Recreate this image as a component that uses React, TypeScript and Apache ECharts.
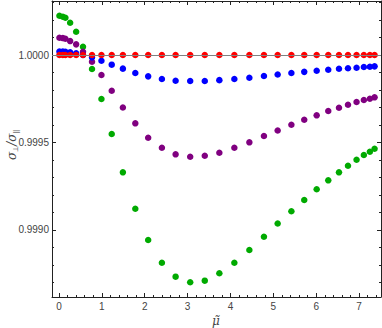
import React, { useEffect, useRef } from "react";
import * as echarts from "echarts";

// x positions (mu tilde) shared by all series
const muValues = [
  0.01, 0.09, 0.15, 0.26, 0.4, 0.56, 0.77, 0.99, 1.23, 1.49, 1.78, 2.08, 2.4, 2.72, 3.06, 3.4,
  3.74, 4.09, 4.44, 4.78, 5.1, 5.42, 5.72, 6.01, 6.28, 6.53, 6.74, 6.94, 7.11, 7.25, 7.36,
];

const redValues = [
  1.0, 1.0, 1.0, 1.0, 1.0, 1.0, 1.0, 1.0, 1.0, 1.0, 1.0, 1.0, 1.0, 1.0, 1.0, 1.0,
  1.0, 1.0, 1.0, 1.0, 1.0, 1.0, 1.0, 1.0, 1.0, 1.0, 1.0, 1.0, 1.0, 1.0, 1.0,
];

const blueValues = [
  1.00002, 1.0000197, 1.000019, 1.0000154, 1.0000097, 1.0, 0.9999869, 0.9999674, 0.9999451,
  0.9999223, 0.9998971, 0.9998783, 0.9998629, 0.9998531, 0.9998514, 0.9998514, 0.9998566,
  0.9998629, 0.9998703, 0.99988, 0.9998886, 0.9998971, 0.999904, 0.9999103, 0.999916,
  0.9999217, 0.9999246, 0.9999274, 0.9999314, 0.9999331, 0.9999354,
];

const purpleValues = [
  1.0000989, 1.0000971, 1.0000931, 1.00008, 1.0000611, 1.0000189, 0.9999617, 0.9998857,
  0.999796, 0.9997, 0.9996097, 0.9995274, 0.9994703, 0.9994326, 0.9994189, 0.9994246,
  0.9994417, 0.9994703, 0.9995011, 0.9995371, 0.9995686, 0.9996017, 0.9996303, 0.9996554,
  0.99968, 0.9996989, 0.999716, 0.9997314, 0.9997429, 0.9997503, 0.9997583,
];

const greenValues = [
  1.0002246, 1.0002189, 1.0002131, 1.0001846, 1.0001331, 1.0000474, 0.99992, 0.9997486,
  0.9995486, 0.9993297, 0.9991217, 0.9989429, 0.9988131, 0.9987331, 0.9987011, 0.9987103,
  0.9987526, 0.9988131, 0.9988857, 0.9989617, 0.9990371, 0.9991069, 0.9991714, 0.9992326,
  0.999284, 0.9993297, 0.9993674, 0.9994017, 0.9994286, 0.9994474, 0.9994646,
];

const xMajorTicks = [0, 1, 2, 3, 4, 5, 6, 7];
const yMajorTicks = [0.999, 0.9995, 1.0];

const X_MIN = -0.163;
const X_MAX = 7.51;
const Y_MIN = 0.998617;
const Y_MAX = 1.000309;

const xMinorTicks: number[] = [];
for (let k = 0; k <= 37; k++) {
  const v = Math.round(k * 2) / 10;
  if (v <= X_MAX) xMinorTicks.push(v);
}
const yMinorTicks: number[] = [];
for (let k = 9987; k <= 10003; k++) yMinorTicks.push(k / 10000);

const FRAME = "#222222";
const LABEL = "#444444";
const FONT = "'Liberation Sans', Arial, sans-serif";

function pair(xs: number[], ys: number[]) {
  return xs.map((x, i) => [x, ys[i]]);
}

export default function App() {
  const ref = useRef<HTMLDivElement>(null);
  useEffect(() => {
    if (!ref.current) return;
    const chart = echarts.init(ref.current, null, { renderer: "svg" });

    const mkX = (pos: "bottom" | "top", major: boolean, labels: boolean) => ({
      type: "value",
      position: pos,
      min: X_MIN,
      max: X_MAX,
      axisLine: { show: major, onZero: false, lineStyle: { color: FRAME, width: 1 } },
      axisTick: {
        show: true,
        inside: true,
        length: major ? 4 : 2,
        customValues: major ? xMajorTicks : xMinorTicks,
        lineStyle: { color: FRAME, width: 1 },
      },
      axisLabel: {
        show: labels,
        customValues: xMajorTicks,
        margin: 4,
        fontSize: 10,
        color: LABEL,
        fontFamily: FONT,
        formatter: (v: number) => String(Math.round(v)),
      },
      splitLine: { show: false },
    });

    const mkY = (pos: "left" | "right", major: boolean, labels: boolean) => ({
      type: "value",
      position: pos,
      min: Y_MIN,
      max: Y_MAX,
      axisLine: { show: major, onZero: false, lineStyle: { color: FRAME, width: 1 } },
      axisTick: {
        show: true,
        inside: true,
        length: major ? 4 : 2,
        customValues: major ? yMajorTicks : yMinorTicks,
        lineStyle: { color: FRAME, width: 1 },
      },
      axisLabel: {
        show: labels,
        customValues: yMajorTicks,
        margin: 3,
        fontSize: 10,
        color: LABEL,
        fontFamily: FONT,
        formatter: (v: number) => v.toFixed(4),
      },
      splitLine: { show: false },
    });

    const scatter = (name: string, color: string, ys: number[], extra: any = {}) => ({
      name,
      type: "scatter",
      xAxisIndex: 0,
      yAxisIndex: 0,
      symbol: "circle",
      symbolSize: 6.5,
      itemStyle: { color, opacity: 1 },
      data: pair(muValues, ys),
      ...extra,
    });

    chart.setOption({
      animation: false,
      backgroundColor: "#ffffff",
      grid: { left: 52, right: 1, top: 1, bottom: 31, containLabel: false },
      xAxis: [
        mkX("bottom", true, true),
        mkX("bottom", false, false),
        mkX("top", true, false),
        mkX("top", false, false),
      ],
      yAxis: [
        mkY("left", true, true),
        mkY("left", false, false),
        mkY("right", true, false),
        mkY("right", false, false),
      ],
      series: [
        scatter("green", "#00aa00", greenValues, {
          markLine: {
            silent: true,
            symbol: "none",
            label: { show: false },
            lineStyle: { color: "#808080", width: 1, type: "solid" },
            data: [{ yAxis: 1.0 }],
          },
        }),
        scatter("purple", "#800080", purpleValues),
        scatter("blue", "#0000ff", blueValues),
        scatter("red", "#ff0000", redValues),
      ],
      graphic: [
        {
          type: "text",
          x: 12,
          y: 145,
          rotation: Math.PI / 2,
          style: {
            text: "{a|σ}{b|⊥}{a|/σ}{b|||}",
            align: "center",
            verticalAlign: "middle",
            fill: LABEL,
            rich: {
              a: { fontSize: 12, fontStyle: "italic", fontFamily: "'DejaVu Serif', serif", fill: LABEL, lineHeight: 14 },
              b: { fontSize: 7, fontFamily: FONT, fill: LABEL, verticalAlign: "bottom", lineHeight: 14, padding: [5, 0, 0, 0] },
            },
          },
        },
        {
          type: "text",
          x: 216,
          y: 321,
          style: {
            text: "μ\u0303",
            align: "center",
            verticalAlign: "middle",
            fontSize: 12,
            fontStyle: "italic",
            fontFamily: "'DejaVu Serif', serif",
            fill: LABEL,
          },
        },
      ],
    });
    return () => chart.dispose();
  }, []);
  return (
    <div
      ref={ref}
      style={{ position: "absolute", left: 0, top: 0, width: 382, height: 328, background: "#fff" }}
    />
  );
}
